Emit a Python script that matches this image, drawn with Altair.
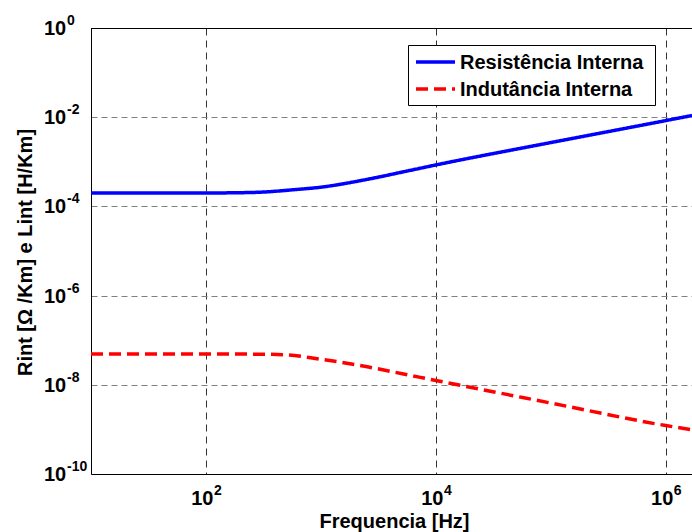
import altair as alt
import pandas as pd

# Frequency points (Hz)
freq = [10, 100, 178, 316, 562, 1000, 2600, 5600, 10000, 100000, 1000000, 1690000]
# Resistência Interna (Ohm/Km)
rint = [2.0e-4, 2.0e-4, 2.02e-4, 2.1e-4, 2.35e-4, 2.7e-4, 4.1e-4, 6.2e-4, 8.5e-4, 2.7e-3, 8.4e-3, 1.09e-2]
# Indutância Interna (H/Km)
freq_l = [10, 100, 316, 500, 960, 2600, 5100, 10000, 100000, 1000000, 1690000]
lint = [4.9e-8, 4.9e-8, 4.85e-8, 4.7e-8, 3.8e-8, 2.5e-8, 1.77e-8, 1.25e-8, 3.9e-9, 1.22e-9, 9.8e-10]

series = ["Resistência Interna", "Indutância Interna"]
colors = ["#0000ff", "#ff0000"]
dashes = [[1, 0], [12, 6]]
x_ticks = [1e2, 1e4, 1e6]
x_exp = ["2", "4", "6"]
y_ticks = [1e0, 1e-2, 1e-4, 1e-6, 1e-8, 1e-10]
y_exp = ["0", "-2", "-4", "-6", "-8", "-10"]

df = pd.concat([
    pd.DataFrame({"f": freq, "v": rint, "s": series[0]}),
    pd.DataFrame({"f": freq_l, "v": lint, "s": series[1]}),
])
dfx = pd.DataFrame({"t": x_ticks, "base": "10", "exp": x_exp})
dfy = pd.DataFrame({"t": y_ticks, "base": "10", "exp": y_exp})

W, H = 601, 446
FONT = "Liberation Sans"

xscale = alt.Scale(type="log", domain=[10, 1.69e6], nice=False)
yscale = alt.Scale(type="log", domain=[1e-10, 1], nice=False)

x_axis = alt.Axis(values=x_ticks, labels=False, ticks=False, grid=True,
                  gridColor="#333333", gridDash=[7, 5], gridWidth=1,
                  domainColor="black", domainWidth=1,
                  title="Frequencia [Hz]", titleFont=FONT, titleFontSize=20,
                  titleFontWeight="bold", titleColor="black",
                  titleX=303, titleY=53, titleBaseline="alphabetic")
y_axis = alt.Axis(values=y_ticks, labels=False, ticks=False, grid=True,
                  gridColor="#808080", gridDash=[6, 4], gridWidth=1,
                  domainColor="black", domainWidth=1,
                  title="Rint [Ω /Km] e Lint [H/Km]", titleFont=FONT,
                  titleFontSize=20, titleFontWeight="bold", titleColor="black",
                  titleX=-66, titleY=224, titleAlign="center",
                  titleBaseline="middle", titleAngle=270)

lines = alt.Chart(df).mark_line(strokeWidth=3.5, interpolate="monotone").encode(
    x=alt.X("f:Q", scale=xscale, axis=x_axis),
    y=alt.Y("v:Q", scale=yscale, axis=y_axis),
    color=alt.Color("s:N", scale=alt.Scale(domain=series, range=colors), legend=None),
    strokeDash=alt.StrokeDash("s:N", scale=alt.Scale(domain=series, range=dashes), legend=None),
)

xb = alt.Chart(dfx).mark_text(font=FONT, fontSize=20, fontWeight="bold", color="black",
                              align="right", baseline="alphabetic", dx=7.5).encode(
    x=alt.X("t:Q", scale=xscale, axis=x_axis), y=alt.value(H + 31), text="base:N")
xe = alt.Chart(dfx).mark_text(font=FONT, fontSize=14, fontWeight="bold", color="black",
                              align="left", baseline="alphabetic", dx=8).encode(
    x=alt.X("t:Q", scale=xscale, axis=x_axis), y=alt.value(H + 21), text="exp:N")
yb = alt.Chart(dfy).mark_text(font=FONT, fontSize=20, fontWeight="bold", color="black",
                              align="left", baseline="alphabetic", dy=7).encode(
    y=alt.Y("t:Q", scale=yscale, axis=y_axis), x=alt.value(-47), text="base:N")
ye = alt.Chart(dfy).mark_text(font=FONT, fontSize=14, fontWeight="bold", color="black",
                              align="left", baseline="alphabetic", dy=-3).encode(
    y=alt.Y("t:Q", scale=yscale, axis=y_axis), x=alt.value(-24), text="exp:N")

top = alt.Chart(pd.DataFrame({"a": [0]})).mark_rule(color="black", strokeWidth=1).encode(
    x=alt.value(0), x2=alt.value(W), y=alt.value(0.5))

# Legend drawn by hand (box, sample lines, labels)
box = alt.Chart(pd.DataFrame({"a": [0]})).mark_rect(fill="white", stroke="black", strokeWidth=1).encode(
    x=alt.value(317.5), x2=alt.value(564.5), y=alt.value(17.5), y2=alt.value(77.5))
leg_layers = [box]
row_y = [34, 61]
for i, s in enumerate(series):
    d = pd.DataFrame({"s": [s]})
    leg_layers.append(alt.Chart(d).mark_rule(color=colors[i], strokeWidth=3.5, strokeDash=dashes[i]).encode(
        x=alt.value(325), x2=alt.value(364), y=alt.value(row_y[i])))
    leg_layers.append(alt.Chart(d).mark_text(font=FONT, fontSize=20, fontWeight="bold", color="black",
                                             align="left", baseline="middle").encode(
        x=alt.value(369), y=alt.value(row_y[i] + 1), text="s:N"))

chart = alt.layer(lines, top, xb, xe, yb, ye, *leg_layers).properties(
    width=W, height=H,
    autosize=alt.AutoSizeParams(type="none"),
    padding={"left": 91, "top": 28, "right": 0, "bottom": 58},
).configure_view(stroke=None).configure(background="white")

chart.save("out.html", embed_options={"renderer": "svg", "actions": False})
